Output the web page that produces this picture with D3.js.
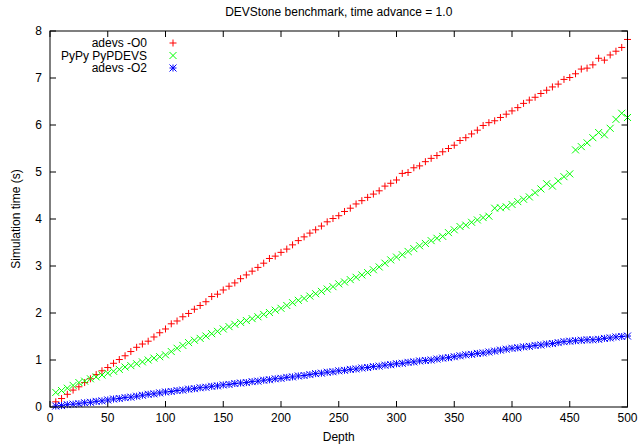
<!DOCTYPE html>
<meta charset="utf-8">
<head>
    <title>DEVStone benchmark</title>
</head>
<script src="https://d3js.org/d3.v7.min.js"></script>
<style>
    body { margin: 0; background: #fff; }
    text {
        font-family: "Liberation Sans", Arial, Helvetica, sans-serif;
        font-size: 12px;
        fill: #000;
    }
    .frame { fill: none; stroke: #000; stroke-width: 1px; }
    .tick-mark { stroke: #000; stroke-width: 1px; }
    .pt { fill: none; stroke-width: 1px; }
</style>
<div id="viz"></div>
<script>

// depth values (x axis)
var depth = [5,10,15,20,25,30,35,40,45,50,55,60,65,70,75,80,85,90,95,100,
    105,110,115,120,125,130,135,140,145,150,155,160,165,170,175,180,185,190,195,200,
    205,210,215,220,225,230,235,240,245,250,255,260,265,270,275,280,285,290,295,300,
    305,310,315,320,325,330,335,340,345,350,355,360,365,370,375,380,385,390,395,400,
    405,410,415,420,425,430,435,440,445,450,455,460,465,470,475,480,485,490,495,500];

// simulation time (s)
var adevsO0 = [0.11,0.18,0.27,0.36,0.43,0.52,0.60,0.69,0.77,0.84,0.93,1.01,1.09,1.18,1.27,1.34,1.40,1.49,1.58,1.66,
    1.77,1.83,1.92,1.99,2.08,2.16,2.24,2.35,2.40,2.49,2.57,2.64,2.73,2.81,2.89,2.97,3.06,3.16,3.21,3.29,
    3.36,3.45,3.54,3.62,3.70,3.77,3.85,3.94,4.01,4.07,4.16,4.23,4.32,4.39,4.46,4.53,4.60,4.70,4.76,4.83,
    4.97,4.99,5.09,5.13,5.22,5.29,5.35,5.43,5.50,5.57,5.67,5.73,5.81,5.89,5.99,6.05,6.09,6.16,6.23,6.30,
    6.37,6.46,6.53,6.59,6.67,6.74,6.81,6.87,6.97,7.01,7.09,7.19,7.21,7.28,7.42,7.38,7.49,7.57,7.65,7.82];

var pypdevs = [0.31,0.35,0.40,0.46,0.52,0.55,0.60,0.64,0.68,0.72,0.76,0.80,0.85,0.88,0.92,0.96,1.00,1.04,1.07,1.11,
    1.18,1.25,1.31,1.37,1.42,1.46,1.51,1.56,1.61,1.66,1.71,1.76,1.80,1.84,1.88,1.92,1.97,2.01,2.06,2.10,
    2.16,2.22,2.27,2.31,2.36,2.41,2.46,2.51,2.56,2.62,2.66,2.71,2.76,2.81,2.86,2.92,2.98,3.06,3.13,3.19,
    3.24,3.31,3.37,3.43,3.48,3.54,3.59,3.63,3.71,3.77,3.84,3.87,3.93,3.98,4.03,4.06,4.23,4.24,4.26,4.31,
    4.37,4.42,4.47,4.56,4.64,4.75,4.70,4.81,4.90,4.96,5.47,5.54,5.62,5.73,5.84,5.79,5.93,6.12,6.25,6.16];

var adevsO2 = [0.02,0.03,0.05,0.06,0.07,0.09,0.10,0.12,0.13,0.15,0.17,0.18,0.20,0.21,0.23,0.25,0.27,0.28,0.30,0.32,
    0.33,0.35,0.36,0.38,0.39,0.41,0.42,0.44,0.45,0.47,0.48,0.50,0.51,0.52,0.54,0.55,0.57,0.58,0.60,0.61,
    0.63,0.64,0.66,0.67,0.69,0.71,0.72,0.74,0.75,0.77,0.78,0.80,0.81,0.83,0.84,0.86,0.87,0.89,0.90,0.92,
    0.93,0.95,0.96,0.98,0.99,1.00,1.02,1.04,1.05,1.07,1.09,1.11,1.12,1.14,1.15,1.17,1.19,1.21,1.23,1.25,
    1.26,1.28,1.29,1.31,1.32,1.34,1.35,1.37,1.39,1.40,1.41,1.42,1.43,1.43,1.44,1.46,1.47,1.49,1.50,1.51];

var seriesNames = ['adevs -O0', 'PyPy PyPDEVS', 'adevs -O2'];
var xTicks = [0,50,100,150,200,250,300,350,400,450,500];
var yTicks = [0,1,2,3,4,5,6,7,8];

var margin = {top: 31, right: 11.5, bottom: 38, left: 50};
var W = 639, H = 445;
var width = W - margin.left - margin.right;
var height = H - margin.top - margin.bottom;

var root = d3.select('#viz')
    .append('svg')
        .attr('width', W)
        .attr('height', H);

var svg = root.append('g')
    .attr('transform', 'translate(' + margin.left + ',' + margin.top + ')');

var x = d3.scaleLinear().domain([0, 500]).range([0, width]);
var y = d3.scaleLinear().domain([0, 8]).range([height, 0]);

// marker shapes, gnuplot style
var s = 3.5;
var plusPath = 'M' + (-s) + ',0H' + s + 'M0,' + (-s) + 'V' + s;
var crossPath = 'M' + (-s) + ',' + (-s) + 'L' + s + ',' + s + 'M' + (-s) + ',' + s + 'L' + s + ',' + (-s);
var starPath = plusPath + crossPath;

var series = [
    {name: seriesNames[0], values: adevsO0, color: '#ff0000', shape: plusPath},
    {name: seriesNames[1], values: pypdevs, color: '#00ff00', shape: crossPath},
    {name: seriesNames[2], values: adevsO2, color: '#0000ff', shape: starPath}
];

// ticks (inside, mirrored on all sides)
var tl = 6;
svg.append('g').selectAll('line.xb')
    .data(xTicks).enter().append('line')
    .attr('class', 'tick-mark')
    .attr('x1', function(d) { return x(d); }).attr('x2', function(d) { return x(d); })
    .attr('y1', height).attr('y2', height - tl);
svg.append('g').selectAll('line.xt')
    .data(xTicks).enter().append('line')
    .attr('class', 'tick-mark')
    .attr('x1', function(d) { return x(d); }).attr('x2', function(d) { return x(d); })
    .attr('y1', 0).attr('y2', tl);
svg.append('g').selectAll('line.yl')
    .data(yTicks).enter().append('line')
    .attr('class', 'tick-mark')
    .attr('y1', function(d) { return y(d); }).attr('y2', function(d) { return y(d); })
    .attr('x1', 0).attr('x2', tl);
svg.append('g').selectAll('line.yr')
    .data(yTicks).enter().append('line')
    .attr('class', 'tick-mark')
    .attr('y1', function(d) { return y(d); }).attr('y2', function(d) { return y(d); })
    .attr('x1', width).attr('x2', width - tl);

// tick labels
svg.append('g').selectAll('text')
    .data(xTicks).enter().append('text')
    .attr('x', function(d) { return x(d); })
    .attr('y', height + 15)
    .style('text-anchor', 'middle')
    .text(function(d) { return d; });
svg.append('g').selectAll('text')
    .data(yTicks).enter().append('text')
    .attr('x', -8)
    .attr('y', function(d) { return y(d) + 4; })
    .style('text-anchor', 'end')
    .text(function(d) { return d; });

// points
series.forEach(function(sr) {
    svg.append('g').selectAll('path')
        .data(sr.values).enter().append('path')
        .attr('class', 'pt')
        .attr('stroke', sr.color)
        .attr('transform', function(d, i) { return 'translate(' + x(depth[i]) + ',' + y(d) + ')'; })
        .attr('d', sr.shape);
});

// frame
svg.append('rect')
    .attr('class', 'frame')
    .attr('x', 0).attr('y', 0)
    .attr('width', width).attr('height', height);

// legend
var legend = svg.append('g');
series.forEach(function(sr, i) {
    legend.append('text')
        .attr('x', 97)
        .attr('y', 16 + i * 12.5)
        .style('text-anchor', 'end')
        .text(sr.name);
    legend.append('path')
        .attr('class', 'pt')
        .attr('stroke', sr.color)
        .attr('transform', 'translate(123,' + (12 + i * 12.5) + ')')
        .attr('d', sr.shape);
});

// titles
root.append('text')
    .attr('x', margin.left + width / 2)
    .attr('y', 16)
    .style('text-anchor', 'middle')
    .text('DEVStone benchmark, time advance = 1.0');

root.append('text')
    .attr('x', margin.left + width / 2)
    .attr('y', 441)
    .style('text-anchor', 'middle')
    .text('Depth');

root.append('text')
    .attr('transform', 'translate(20,' + (margin.top + height / 2) + ')rotate(-90)')
    .style('text-anchor', 'middle')
    .text('Simulation time (s)');

</script>
